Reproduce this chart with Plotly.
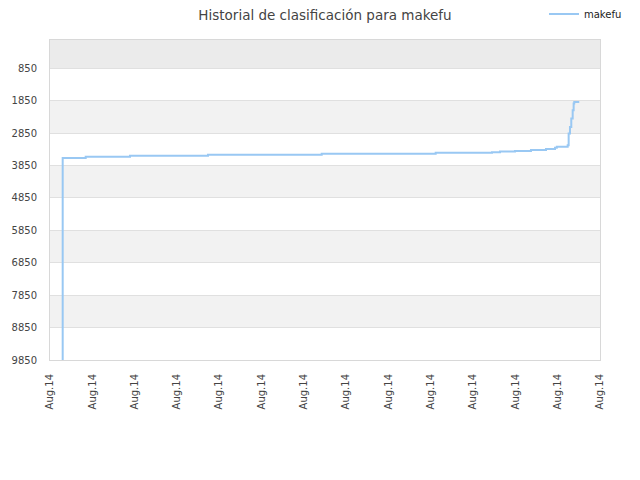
import plotly.graph_objects as go

# ranking history for makefu (lower is better)
fechas = [
    "2014-08-01 07:10", "2014-08-01 07:12", "2014-08-01 20:15", "2014-08-02 21:23",
    "2014-08-04 17:37", "2014-08-07 10:08", "2014-08-10 02:47", "2014-08-11 10:44",
    "2014-08-11 15:16", "2014-08-11 23:46", "2014-08-12 08:50", "2014-08-12 17:21",
    "2014-08-12 22:28", "2014-08-12 23:30", "2014-08-13 05:40", "2014-08-13 06:13",
    "2014-08-13 06:58", "2014-08-13 07:42", "2014-08-13 08:30", "2014-08-13 09:03",
    "2014-08-13 09:24", "2014-08-13 12:14",
]
posiciones = [
    10600, 3615, 3580, 3547,
    3516, 3485, 3454, 3440,
    3420, 3401, 3370, 3339,
    3300, 3268, 3226, 2865,
    2661, 2402, 2146, 1939,
    1890, 1890,
]

y_ticks = [850, 1850, 2850, 3850, 4850, 5850, 6850, 7850, 8850, 9850]
x_ticks = ["2014-08-%02d" % d for d in range(1, 15)]

fig = go.Figure()
fig.add_trace(go.Scatter(
    x=fechas, y=posiciones, mode="lines", name="makefu",
    line=dict(color="#99c8f3", width=2, shape="hv"),
))

# alternating bands behind the plot
bands = [(-23, 850, "#ebebeb"), (1850, 2850, "#f2f2f2"), (3850, 4850, "#f2f2f2"),
         (5850, 6850, "#f2f2f2"), (7850, 8850, "#f2f2f2")]
for y0, y1, c in bands:
    fig.add_shape(type="rect", xref="paper", yref="y", x0=0, x1=1, y0=y0, y1=y1,
                  fillcolor=c, line_width=0, layer="below")

# page body adds ~8px, so margins are shifted to land the plot at 50..600 x 40..360
fig.update_layout(
    width=640, height=480,
    margin=dict(l=42, r=48, t=32, b=128, autoexpand=False),
    paper_bgcolor="white", plot_bgcolor="white",
    font=dict(family="DejaVu Sans", size=10, color="#444"),
    title=dict(text="Historial de clasificación para makefu", x=0.5, xanchor="center",
               xref="paper", y=0.985, yref="container", yanchor="middle",
               font=dict(size=13.5, color="#444")),
    showlegend=True,
    legend=dict(xref="container", yref="container", x=0.8375, y=0.9875, xanchor="left",
                yanchor="middle", itemwidth=30,
                font=dict(size=10, color="#222"), bgcolor="rgba(0,0,0,0)"),
)
fig.update_xaxes(
    type="date", range=["2014-08-01", "2014-08-14"], automargin=False,
    tickvals=x_ticks, ticktext=["Aug.14"] * len(x_ticks), tickangle=-90,
    showgrid=False, zeroline=False, ticklabelstandoff=9,
    showline=True, linecolor="#d8d8d8", linewidth=1, mirror=True, ticks="",
)
fig.update_yaxes(
    range=[9850, -23], tickvals=y_ticks, ticktext=[str(v) for v in y_ticks],
    ticks="", automargin=False, ticklabelstandoff=10,
    showgrid=True, gridcolor="#e0e0e0", gridwidth=1, zeroline=False,
    showline=True, linecolor="#d8d8d8", linewidth=1, mirror=True,
)

fig.write_html("out.html")
